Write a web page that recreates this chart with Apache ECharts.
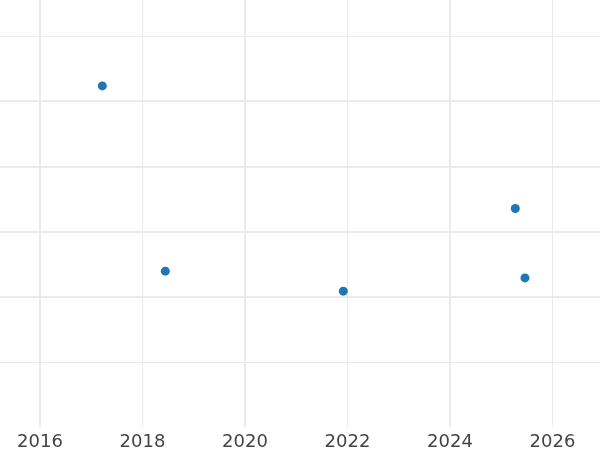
<!DOCTYPE html>
<html>
<head>
<meta charset="utf-8">
<script src="https://cdn.jsdelivr.net/npm/echarts@6/dist/echarts.min.js"></script>
<style>html,body{margin:0;padding:0;background:#fff;}#c{width:600px;height:450px;}</style>
</head>
<body>
<div id="c"></div>
<script>
// Data
var years = [2017.216, 2018.445, 2021.918, 2025.274, 2025.463];
var values = [4.235, 1.393, 1.086, 2.354, 1.290];
var xTickYears = [2014, 2016, 2018, 2020, 2022, 2024, 2026, 2028];

var chart = echarts.init(document.getElementById('c'), null, {renderer: 'canvas'});
var pts = years.map(function (y, i) { return [y, values[i]]; });
var G = '#ebebeb', N = 'rgba(0,0,0,0)';
var xMin = xTickYears[0], xMax = xTickYears[xTickYears.length - 1];

chart.setOption({
  animation: false,
  backgroundColor: '#fff',
  grid: {left: -62.5, top: -29.2, width: 717.5, height: 456.4, containLabel: false, outerBoundsMode: 'none'},
  xAxis: [
    {type: 'value', min: xMin, max: xMax, interval: 2,
     axisLine: {show: false}, axisTick: {show: false},
     axisLabel: {show: true, margin: 6, color: '#444', fontSize: 18, fontFamily: 'DejaVu Sans',
                 formatter: function (v) { return String(Math.round(v)); }},
     splitLine: {show: true, lineStyle: {width: 1, color: [N, N, G, N, G, N, G, N]}}},
    {type: 'value', min: xMin, max: xMax, interval: 2, position: 'bottom',
     axisLine: {show: false}, axisTick: {show: false}, axisLabel: {show: false},
     splitLine: {show: true, lineStyle: {width: 2, color: [N, G, N, G, N, G, N, N]}}}
  ],
  yAxis: [
    {type: 'value', min: -1, max: 6, interval: 1,
     axisLine: {show: false}, axisTick: {show: false}, axisLabel: {show: false},
     splitLine: {show: true, lineStyle: {width: 1, color: [N, G, N, N, N, N, G, N]}}},
    {type: 'value', min: -1, max: 6, interval: 1, position: 'left',
     axisLine: {show: false}, axisTick: {show: false}, axisLabel: {show: false},
     splitLine: {show: true, lineStyle: {width: 2, color: [N, N, G, G, G, G, N, N]}}}
  ],
  series: [{
    type: 'scatter', xAxisIndex: 0, yAxisIndex: 0,
    data: pts, symbol: 'circle', symbolSize: 9,
    itemStyle: {color: '#1f77b4', opacity: 1}
  }]
});
</script>
</body>
</html>
